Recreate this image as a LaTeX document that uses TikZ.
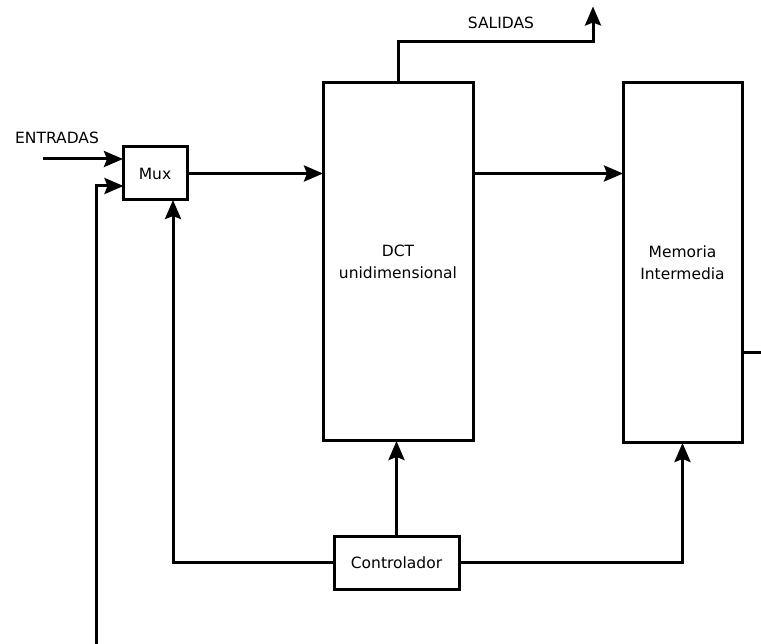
\documentclass[tikz,border=0pt]{standalone}
\usepackage{fontspec}
\setmainfont{DejaVu Sans}
\usetikzlibrary{arrows.meta}
\begin{document}
\begin{tikzpicture}[x=1pt,y=-1pt,
  blk/.style={draw,line width=3pt,fill=white,inner sep=0pt,align=center,font=\fontsize{15.5}{22}\selectfont},
  wire/.style={line width=3pt},
  arr/.style={wire,shorten >=-1.5pt,-{Stealth[length=19pt,width=16pt,inset=3pt]}},
  lbl/.style={font=\fontsize{15.5}{18}\selectfont,inner sep=0pt}]
\useasboundingbox (0,0) rectangle (761,644);
\node[blk,minimum width=64pt,minimum height=53pt] (mux) at (155,173.5) {Mux};
\node[blk,minimum width=150pt,minimum height=358pt] (dct) at (398,262) {DCT\\unidimensional};
\node[blk,minimum width=119pt,minimum height=360pt] (mem) at (682.5,263) {Memoria\\Intermedia};
\node[blk,minimum width=125pt,minimum height=53pt] (ctrl) at (396.5,562.5) {Controlador};
\node[lbl] (ent) at (57,138) {ENTRADAS};
\node[lbl] (sal) at (501,23) {SALIDAS};
\coordinate (ein) at (43,159);
\coordinate (fb) at (96,644);
\coordinate (fbin) at (122,186);
\coordinate (salida) at (593,8);
\coordinate (out) at (761,353);
\draw[arr] (ein) -- (ein -| mux.west);
\draw[arr] (fb) |- (fbin);
\draw[arr] (mux.east) -- (mux.east -| dct.west);
\draw[arr] (dct.north) -- ++(0,-40) -| (salida);
\draw[arr] (dct.east |- mux.east) -- (mem.west |- mux.east);
\draw[wire] (mem.east |- out) -- (out);
\draw[arr] (ctrl.north) -- (ctrl.north |- dct.south);
\draw[arr] (ctrl.west) -| ([xshift=18pt]mux.south);
\draw[arr] (ctrl.east) -| (mem.south);
\end{tikzpicture}
\end{document}
